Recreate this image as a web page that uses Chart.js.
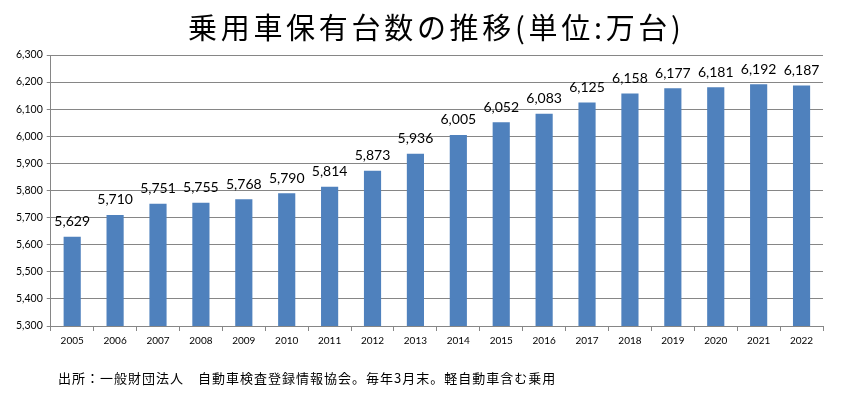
<!DOCTYPE html>
<html>
<head>
<meta charset="utf-8">
<script src="https://cdn.jsdelivr.net/npm/chart.js@4/dist/chart.umd.min.js"></script>
<style>
  html, body { margin: 0; padding: 0; background: #fff; }
  #wrap { position: relative; width: 841px; height: 393px; }
  #title {
    position: absolute; left: 188px; top: 12px;
    font: 29px/1 "Noto Sans CJK JP", sans-serif; color: #000;
    letter-spacing: 3.7px; white-space: pre;
  }
  #note {
    position: absolute; left: 58px; top: 368px;
    font: 13px "Noto Sans CJK JP", sans-serif; color: #000;
    letter-spacing: 1px; white-space: pre;
  }
</style>
</head>
<body>
<div id="wrap">
  <canvas id="car-chart" width="841" height="393"></canvas>
  <div id="title">乗用車保有台数の推移(単位:万台)</div>
  <div id="note">出所：一般財団法人　自動車検査登録情報協会。毎年3月末。軽自動車含む乗用</div>
</div>
<script>
// 乗用車保有台数（万台）
const years = ['2005', '2006', '2007', '2008', '2009', '2010', '2011', '2012', '2013',
               '2014', '2015', '2016', '2017', '2018', '2019', '2020', '2021', '2022'];
const cars = [5629, 5710, 5751, 5755, 5768, 5790, 5814, 5873, 5936,
              6005, 6052, 6083, 6125, 6158, 6177, 6181, 6192, 6187];
const yMin = 5300;
const yMax = 6300;
const yStep = 100;

// bar value labels
const barLabels = {
    id: 'barLabels',
    afterDatasetsDraw(chart) {
        const ctx = chart.ctx;
        const meta = chart.getDatasetMeta(0);
        ctx.save();
        ctx.font = '14px Lato, "Open Sans", sans-serif';
        ctx.fillStyle = '#000';
        ctx.textAlign = 'center';
        ctx.textBaseline = 'bottom';
        meta.data.forEach(function(bar, i) {
            ctx.fillText(cars[i].toLocaleString('en-US'), bar.x, bar.y - 8);
        });
        ctx.restore();
    }
};

document.addEventListener('DOMContentLoaded', function() {
    const cx = document.getElementById('car-chart').getContext('2d');
    new Chart(cx, {
        type: 'bar',
        data: {
            labels: years,
            datasets: [{
                data: cars,
                backgroundColor: '#4F81BD',
                barPercentage: 0.4,
                categoryPercentage: 1
            }]
        },
        options: {
            responsive: false,
            animation: false,
            layout: { padding: { left: 12, right: 18, top: 55, bottom: 42 } },
            scales: {
                x: {
                    grid: { drawOnChartArea: false, drawTicks: true, tickLength: 5, color: '#868686' },
                    border: { color: '#868686' },
                    ticks: { color: '#000', font: { size: 10, family: 'Lato, sans-serif' }, padding: 4 }
                },
                y: {
                    min: yMin,
                    max: yMax,
                    ticks: {
                        stepSize: yStep,
                        color: '#000',
                        font: { size: 10.5, family: 'Lato, sans-serif' },
                        padding: 4,
                        callback: function(v) { return v.toLocaleString('en-US'); }
                    },
                    grid: { color: '#868686', tickLength: 4 },
                    border: { color: '#868686' }
                }
            },
            plugins: {
                legend: { display: false },
                tooltip: { enabled: false }
            }
        },
        plugins: [barLabels]
    });
});
</script>
</body>
</html>
